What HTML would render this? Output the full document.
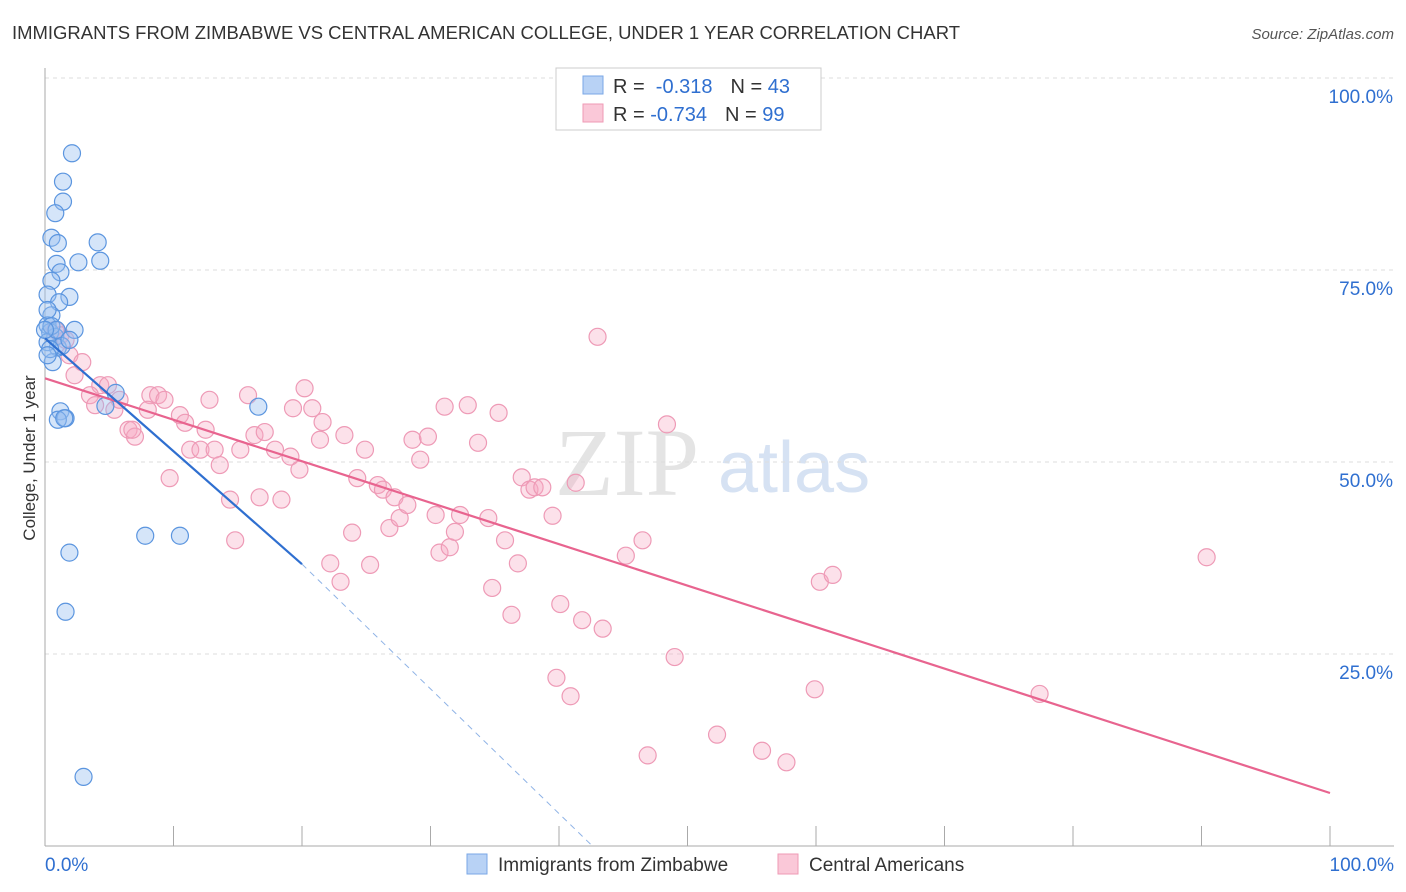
<!DOCTYPE html>
<html><head><meta charset="utf-8"><style>
body{margin:0;background:#fff;font-family:"Liberation Sans",sans-serif;}
#wrap{position:relative;width:1406px;height:892px;overflow:hidden;}
</style></head><body>
<div id="wrap">
<svg id="svg" width="1406" height="892">
<text x="12" y="39" font-size="18" fill="#333" textLength="948" lengthAdjust="spacingAndGlyphs">IMMIGRANTS FROM ZIMBABWE VS CENTRAL AMERICAN COLLEGE, UNDER 1 YEAR CORRELATION CHART</text>
<text x="1394" y="39" font-size="15" fill="#555" text-anchor="end" font-style="italic">Source: ZipAtlas.com</text>
<text x="35" y="458" font-size="17" fill="#333" text-anchor="middle" transform="rotate(-90 35 458)">College, Under 1 year</text>
<text x="555" y="495" font-size="96" fill="#e4e4e4" font-family="Liberation Serif,serif">ZIP</text>
<text x="718" y="492" font-size="72" fill="#d6e2f3">atlas</text>
<g id="grid"></g><g id="pts"></g><g id="lines"></g>
<g>
<rect x="556" y="68" width="265" height="62" fill="#fff" stroke="#ccc"/>
<rect x="583" y="76" width="20" height="18" fill="#b8d2f5" stroke="#7aa7e6"/>
<rect x="583" y="104" width="20" height="18" fill="#fac8d8" stroke="#ef9ab5"/>
<text x="613" y="93" font-size="20" fill="#333">R = <tspan fill="#2f6fd0">&#160;-0.318</tspan><tspan dx="18" fill="#333">N = </tspan><tspan fill="#2f6fd0">43</tspan></text>
<text x="613" y="121" font-size="20" fill="#333">R = <tspan fill="#2f6fd0">-0.734</tspan><tspan dx="18" fill="#333">N = </tspan><tspan fill="#2f6fd0">99</tspan></text>
</g>
<g>
<rect x="467" y="854" width="20" height="20" fill="#b8d2f5" stroke="#7aa7e6"/>
<text x="498" y="871" font-size="19" fill="#333">Immigrants from Zimbabwe</text>
<rect x="778" y="854" width="20" height="20" fill="#fac8d8" stroke="#ef9ab5"/>
<text x="809" y="871" font-size="19" fill="#333">Central Americans</text>
</g>
<text x="45" y="871" font-size="19" fill="#2f6fd0">0.0%</text>
<text x="1394" y="871" font-size="19" fill="#2f6fd0" text-anchor="end">100.0%</text>
</svg></div>
<script>
const yTicks=[100,75,50,25];
const yTickLabels=["100.0%","75.0%","50.0%","25.0%"];
const blueX=[2.1,1.4,1.4,0.8,0.5,1,4.1,0.9,2.6,4.3,1.2,0.5,0.2,1.9,1.1,0.5,0.2,2.3,0.4,0.8,1,0.2,5.5,0.6,4.7,1.2,1.6,1,1.5,7.8,10.5,1.9,1.6,3,16.6,0.2,0.5,1.3,0.4,0.9,1.9,0,0.2];
const blueY=[90.2,86.5,83.9,82.4,79.2,78.5,78.6,75.8,76,76.2,74.7,73.6,71.8,71.5,70.8,69.1,67.8,67.2,66.9,66.3,64.9,65.6,59,63,57.3,56.6,55.7,55.5,55.7,40.4,40.4,38.2,30.5,9,57.2,69.8,67.7,65.1,64.7,67.2,65.9,67.2,63.9];
const pinkX=[43.0,0.8,1.2,1.6,1.9,2.3,2.9,4.3,4.9,5.4,3.5,3.9,5.8,6.5,7.0,6.8,8.2,8.8,9.3,8.0,9.7,10.5,10.9,11.3,12.1,12.5,12.8,13.2,13.6,14.4,14.8,15.2,15.8,16.3,16.7,17.1,17.9,18.4,19.1,19.3,19.8,20.2,20.8,21.4,21.6,22.2,23.0,23.3,23.9,24.3,24.9,25.3,25.9,26.3,26.8,27.2,27.6,28.2,28.6,29.2,29.8,30.4,30.7,31.1,31.5,31.9,32.3,32.9,33.7,34.5,34.8,35.3,35.8,36.3,36.8,37.1,37.7,38.1,38.7,39.5,39.8,40.1,40.9,41.3,41.8,43.4,45.2,46.5,46.9,48.4,49.0,52.3,55.8,57.7,59.9,60.3,61.3,77.4,90.4];
const pinkY=[66.3,67.2,66.5,65.9,63.9,61.3,63.0,60.0,60.0,56.8,58.7,57.4,58.1,54.2,53.3,54.2,58.7,58.7,58.1,56.8,47.9,56.1,55.1,51.6,51.6,54.2,58.1,51.6,49.6,45.1,39.8,51.6,58.7,53.5,45.4,53.9,51.6,45.1,50.7,57.0,49.0,59.6,57.0,52.9,55.2,36.8,34.4,53.5,40.8,47.9,51.6,36.6,47.0,46.4,41.4,45.4,42.7,44.4,52.9,50.3,53.3,43.1,38.2,57.2,38.9,40.9,43.1,57.4,52.5,42.7,33.6,56.4,39.8,30.1,36.8,48.0,46.4,46.7,46.7,43.0,21.9,31.5,19.5,47.3,29.4,28.3,37.8,39.8,11.8,54.9,24.6,14.5,12.4,10.9,20.4,34.4,35.3,19.8,37.6];
const blueLine=[[0,66.1],[20,36.7]], blueDash=[[20,36.7],[42.6,0]];
const pinkLine=[[0,60.9],[100,6.9]];
const X=v=>45+12.85*v, Y=v=>846-7.68*v;
const NS="http://www.w3.org/2000/svg";
function mk(t,a,p){const e=document.createElementNS(NS,t);for(const k in a)e.setAttribute(k,a[k]);p.appendChild(e);return e;}
const grid=document.getElementById('grid');
yTicks.forEach((t,i)=>{
 const l=mk('line',{x1:45,x2:1394,y1:Y(t),y2:Y(t),stroke:'#ddd','stroke-dasharray':'4,4'},grid);
 
 
 const tx=mk('text',{x:1393,y:Y(t)+25,'font-size':19,fill:'#2f6fd0','text-anchor':'end'},grid);
 tx.textContent=yTickLabels[i];
 
 
});
const ax=mk('line',{x1:45,x2:45,y1:68,y2:846,stroke:'#aaa'},grid);


const bx=mk('line',{x1:45,x2:1394,y1:846,y2:846,stroke:'#aaa'},grid);


for(let i=0;i<=10;i++){const tk=mk('line',{x1:X(i*10),x2:X(i*10),y1:826,y2:846,stroke:'#aaa'},grid);
 
 }
const pts=document.getElementById('pts');
pinkX.forEach((x,i)=>{const c=mk('circle',{cx:X(x),cy:Y(pinkY[i]),r:8.5,fill:'rgba(246,170,195,0.35)',stroke:'#ee9ab6','stroke-width':1.2},pts);
 
 });
blueX.forEach((x,i)=>{const c=mk('circle',{cx:X(x),cy:Y(blueY[i]),r:8.5,fill:'rgba(150,190,240,0.4)',stroke:'#5b95df','stroke-width':1.2},pts);
 
 });
const lines=document.getElementById('lines');
const pl=mk('line',{x1:X(pinkLine[0][0]),y1:Y(pinkLine[0][1]),x2:X(pinkLine[1][0]),y2:Y(pinkLine[1][1]),stroke:'#e8648f','stroke-width':2.2},lines);


const bl=mk('line',{x1:X(blueLine[0][0]),y1:Y(blueLine[0][1]),x2:X(blueLine[1][0]),y2:Y(blueLine[1][1]),stroke:'#2f6fd0','stroke-width':2.2},lines);


const bd=mk('line',{x1:X(blueDash[0][0]),y1:Y(blueDash[0][1]),x2:X(blueDash[1][0]),y2:Y(blueDash[1][1]),stroke:'#8fb3e6','stroke-width':1,'stroke-dasharray':'6,5'},lines);


</script>
</body></html>
